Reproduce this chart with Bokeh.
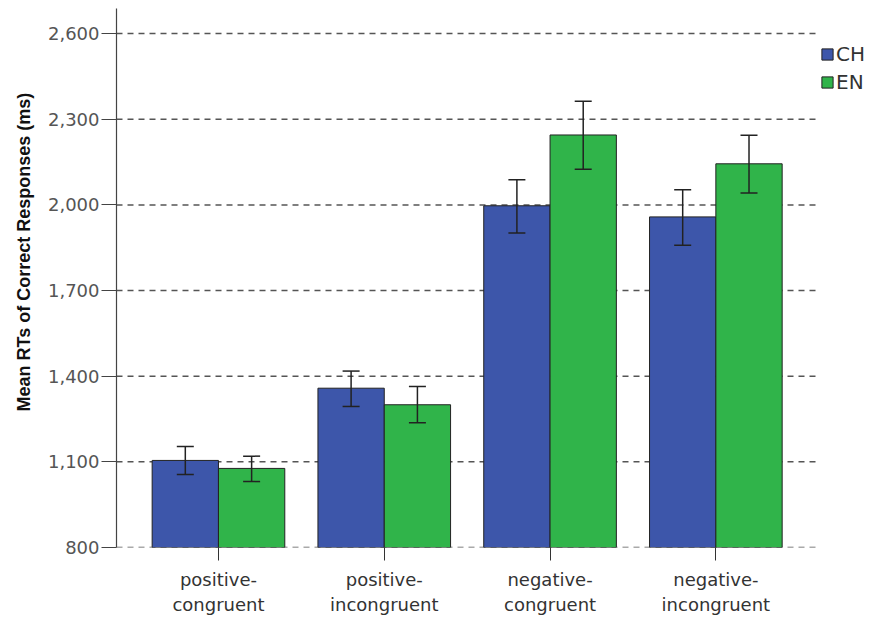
from bokeh.plotting import figure
from bokeh.models import (ColumnDataSource, FixedTicker, NumeralTickFormatter,
                          Whisker, TeeHead, Legend, LegendItem, Title, Range1d)
from bokeh.embed import file_html
from bokeh.resources import INLINE

# Mean RTs (ms) with error-bar limits per condition and language
conditions = ["positive-\ncongruent", "positive-\nincongruent",
              "negative-\ncongruent", "negative-\nincongruent"]
ch_mean = [1105, 1358, 1997, 1958]
ch_upper = [1154, 1418, 2088, 2053]
ch_lower = [1056, 1294, 1902, 1859]
en_mean = [1077, 1300, 2245, 2144]
en_upper = [1120, 1364, 2363, 2244]
en_lower = [1031, 1237, 2125, 2042]
y_ticks = [800, 1100, 1400, 1700, 2000, 2300, 2600]

BLUE = "#3D56AA"
GREEN = "#30B44A"
OFFSET = 0.2
BAR_W = 0.4
X_START = -0.615
GRID_END = 3.62          # dashed grid lines stop here, legend sits beyond

idx = list(range(len(conditions)))
ch_src = ColumnDataSource(dict(x=[i - OFFSET for i in idx], top=ch_mean,
                               upper=ch_upper, lower=ch_lower))
en_src = ColumnDataSource(dict(x=[i + OFFSET for i in idx], top=en_mean,
                               upper=en_upper, lower=en_lower))

p = figure(width=877, height=617, output_backend="svg", toolbar_location=None,
           x_range=Range1d(X_START, 3.975), y_range=Range1d(800, 2688))
p.min_border_left = 115
p.min_border_right = 0
p.min_border_top = 8
p.min_border_bottom = 68
p.outline_line_color = None
p.background_fill_color = "white"
p.border_fill_color = "white"

# dashed horizontal grid lines at the y ticks
p.segment(x0=[X_START] * len(y_ticks), x1=[GRID_END] * len(y_ticks),
          y0=y_ticks, y1=y_ticks, line_color="#555555", line_dash="6 5",
          line_width=1.5)

ch_r = p.vbar(x="x", top="top", bottom=800, width=BAR_W, source=ch_src,
              fill_color=BLUE, line_color="#222222", line_width=1)
en_r = p.vbar(x="x", top="top", bottom=800, width=BAR_W, source=en_src,
              fill_color=GREEN, line_color="#222222", line_width=1)

for src in (ch_src, en_src):
    w = Whisker(base="x", upper="upper", lower="lower", source=src,
                level="overlay", line_color="#222222", line_width=1.5,
                upper_head=TeeHead(size=17, line_color="#222222", line_width=1.5),
                lower_head=TeeHead(size=17, line_color="#222222", line_width=1.5))
    p.add_layout(w)

p.xgrid.grid_line_color = None
p.ygrid.grid_line_color = None

# y axis
p.yaxis.ticker = FixedTicker(ticks=y_ticks)
p.yaxis.formatter = NumeralTickFormatter(format="0,0")
p.yaxis.axis_line_color = "#444444"
p.yaxis.axis_line_width = 1.2
p.yaxis.major_tick_line_color = "#444444"
p.yaxis.major_tick_out = 15
p.yaxis.major_tick_in = 0
p.yaxis.minor_tick_line_color = None
p.yaxis.major_label_standoff = 2
p.yaxis.major_label_text_font = "DejaVu Sans"
p.yaxis.major_label_text_font_size = "18px"
p.yaxis.major_label_text_color = "#555555"

# x axis
p.xaxis.ticker = FixedTicker(ticks=idx)
p.xaxis.major_label_overrides = {i: c for i, c in zip(idx, conditions)}
p.xaxis.axis_line_color = None
p.xaxis.major_tick_line_color = "#333333"
p.xaxis.major_tick_out = 13
p.xaxis.major_tick_in = 0
p.xaxis.minor_tick_line_color = None
p.xaxis.major_label_standoff = 8
p.xaxis.major_label_text_font = "DejaVu Sans"
p.xaxis.major_label_text_font_size = "18px"
p.xaxis.major_label_text_color = "#333333"

# y axis title, anchored from the bottom of the axis
p.add_layout(Title(text="Mean RTs of Correct Responses (ms)", align="left",
                   offset=136, standoff=22, text_font="Liberation Sans",
                   text_font_style="bold", text_font_size="18px",
                   text_color="#111111"), "left")

legend = Legend(items=[LegendItem(label="CH", renderers=[ch_r]),
                       LegendItem(label="EN", renderers=[en_r])],
                location=(704, 451), padding=0, margin=0, spacing=0,
                glyph_width=14, glyph_height=14, label_standoff=2,
                label_height=28, label_text_font="DejaVu Sans",
                label_text_font_size="20px", label_text_color="#333333",
                border_line_color=None, background_fill_alpha=0)
p.add_layout(legend, "center")

open("out.html", "w").write(file_html(p, INLINE))
